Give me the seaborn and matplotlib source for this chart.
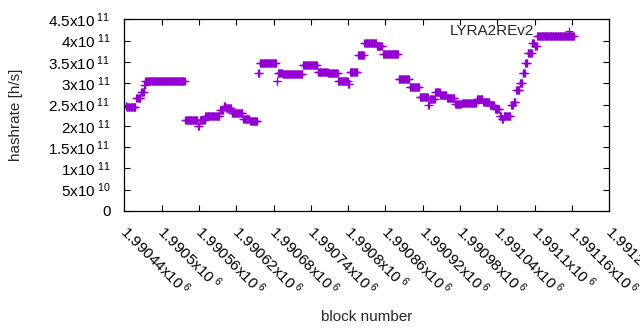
import numpy as np
import pandas as pd
import matplotlib
matplotlib.use("Agg")
import matplotlib.pyplot as plt
import matplotlib.transforms as mtransforms
import seaborn as sns

# hashrate steps: each run starts at a block offset
# (relative to first_block) and holds its value until the next run starts
first_block = 1990440
run_start = [2, 4, 19, 27, 32, 34, 98, 118, 121, 130, 154, 160, 163, 173, 191, 202,
             215, 218, 245, 247, 255, 287, 311, 328, 344, 360, 363, 376, 386, 406, 416,
             441, 459, 475, 489, 491, 500, 508, 519, 532, 543, 567, 577, 588, 596, 604,
             607, 610, 622, 626, 630, 636, 641, 645, 649, 656, 660, 664]
run_value = [2.46, 2.43, 2.65, 2.79, 2.96, 3.04, 2.13, 2.00, 2.14, 2.22, 2.37, 2.46, 2.41, 2.29, 2.16, 2.12,
             3.23, 3.48, 3.04, 3.24, 3.22, 3.43, 3.27, 3.23, 3.06, 2.98, 3.26, 3.66, 3.94, 3.87, 3.68,
             3.11, 2.90, 2.67, 2.49, 2.62, 2.80, 2.72, 2.65, 2.51, 2.53, 2.62, 2.57, 2.49, 2.39, 2.23,
             2.16, 2.23, 2.49, 2.55, 2.84, 3.00, 3.23, 3.48, 3.70, 3.95, 3.87, 4.10]
last_offset = 724

x_ticks = np.arange(1990440, 1991221, 60)
y_ticks = [0, 0.5e11, 1e11, 1.5e11, 2e11, 2.5e11, 3e11, 3.5e11, 4e11, 4.5e11]
y_ticklabels = ["0", r"5x10$^{\ 10}$", r"1x10$^{\ 11}$", r"1.5x10$^{\ 11}$", r"2x10$^{\ 11}$",
                r"2.5x10$^{\ 11}$", r"3x10$^{\ 11}$", r"3.5x10$^{\ 11}$", r"4x10$^{\ 11}$",
                r"4.5x10$^{\ 11}$"]

lengths = np.diff(run_start + [last_offset])
blocks = first_block + np.arange(run_start[0], last_offset)
hashrate = np.repeat(np.array(run_value) * 1e11, lengths)
df = pd.DataFrame({"block": blocks, "hashrate": hashrate})

sns.set_style("ticks")
plt.rcParams["font.family"] = ["Liberation Sans", "DejaVu Sans"]
plt.rcParams["mathtext.fontset"] = "custom"
plt.rcParams["mathtext.rm"] = "Liberation Sans"
plt.rcParams["mathtext.it"] = "Liberation Sans"

fig = plt.figure(figsize=(6.4, 3.3), dpi=100)
ax = fig.add_axes([124.3 / 640, 119 / 330, 485 / 640, 191.7 / 330])

sns.scatterplot(data=df, x="block", y="hashrate", marker="+", s=28, color="#9400d3",
                linewidth=0.9, label="LYRA2REv2", ax=ax)

ax.set_xlim(1990440, 1991220)
ax.set_ylim(0, 4.5e11)
ax.set_xticks(x_ticks)
ax.set_xticklabels([f"{v / 1e6:g}x10$^{{\\ 6}}$" for v in x_ticks],
                   rotation=-45, ha="left", va="top", rotation_mode="anchor")
ax.set_yticks(y_ticks)
ax.set_yticklabels(y_ticklabels)
ax.tick_params(direction="in", length=4, width=0.8, top=True, right=True,
               labelsize=11, colors="black")
ax.tick_params(axis="y", pad=10)
ax.tick_params(axis="x", pad=8)

# nudge the rotated x labels so they start right at their tick
shift = mtransforms.ScaledTranslation(6 / 100, 0, fig.dpi_scale_trans)
for lbl in ax.get_xticklabels():
    lbl.set_transform(lbl.get_transform() + shift)

for s in ax.spines.values():
    s.set_linewidth(0.9)
    s.set_color("black")

ax.set_xlabel("block number", fontsize=11)
ax.set_ylabel("hashrate [h/s]", fontsize=11)
ax.xaxis.set_label_coords(0.5, -0.515)
ax.yaxis.set_label_coords(-0.208, 0.5)

ax.legend(loc="upper right", bbox_to_anchor=(0.948, 0.974), frameon=False,
          markerfirst=False, fontsize=11, borderaxespad=0, borderpad=0,
          handletextpad=1.3, handlelength=2.0)

fig.savefig("out.png", dpi=100)
